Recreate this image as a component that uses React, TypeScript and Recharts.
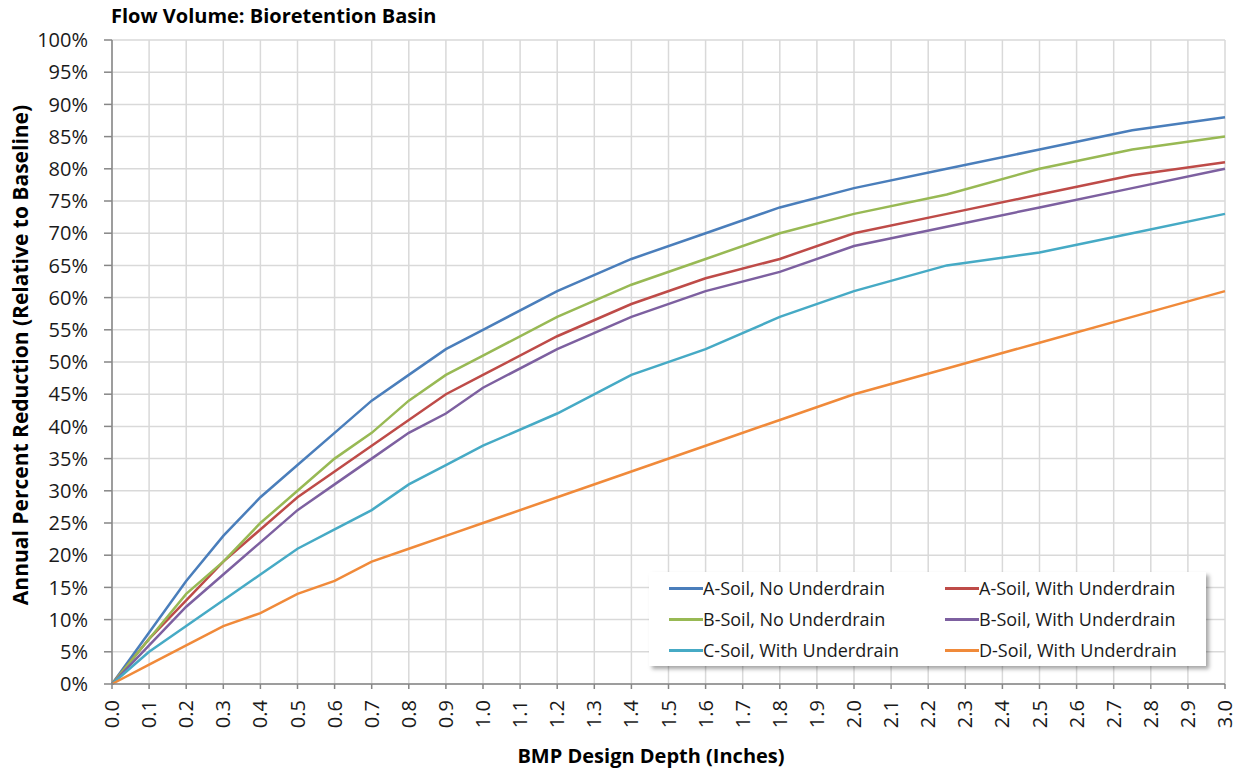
import React from 'react';
import { LineChart, Line, XAxis, YAxis, CartesianGrid, Legend } from 'recharts';

const depths = [0, 0.1, 0.2, 0.3, 0.4, 0.5, 0.6, 0.7, 0.8, 0.9, 1.0, 1.2, 1.4, 1.6, 1.8, 2.0, 2.25, 2.5, 2.75, 3.0];

const aSoilNoUnderdrain = [0, 8, 16, 23, 29, 34, 39, 44, 48, 52, 55, 61, 66, 70, 74, 77, 80, 83, 86, 88];
const aSoilWithUnderdrain = [0, 7, 13, 19, 24, 29, 33, 37, 41, 45, 48, 54, 59, 63, 66, 70, 73, 76, 79, 81];
const bSoilNoUnderdrain = [0, 7, 14, 19, 25, 30, 35, 39, 44, 48, 51, 57, 62, 66, 70, 73, 76, 80, 83, 85];
const bSoilWithUnderdrain = [0, 6, 12, 17, 22, 27, 31, 35, 39, 42, 46, 52, 57, 61, 64, 68, 71, 74, 77, 80];
const cSoilWithUnderdrain = [0, 5, 9, 13, 17, 21, 24, 27, 31, 34, 37, 42, 48, 52, 57, 61, 65, 67, 70, 73];
const dSoilWithUnderdrain = [0, 3, 6, 9, 11, 14, 16, 19, 21, 23, 25, 29, 33, 37, 41, 45, 49, 53, 57, 61];

const xTicks = [0, 0.1, 0.2, 0.3, 0.4, 0.5, 0.6, 0.7, 0.8, 0.9, 1.0, 1.1, 1.2, 1.3, 1.4, 1.5, 1.6, 1.7, 1.8, 1.9, 2.0, 2.1, 2.2, 2.3, 2.4, 2.5, 2.6, 2.7, 2.8, 2.9, 3.0];
const yTicks = [0, 5, 10, 15, 20, 25, 30, 35, 40, 45, 50, 55, 60, 65, 70, 75, 80, 85, 90, 95, 100];

const data = depths.map((d, i) => ({
  depth: d,
  aNo: aSoilNoUnderdrain[i],
  aWith: aSoilWithUnderdrain[i],
  bNo: bSoilNoUnderdrain[i],
  bWith: bSoilWithUnderdrain[i],
  cWith: cSoilWithUnderdrain[i],
  dWith: dSoilWithUnderdrain[i],
}));

const FONT = '"Open Sans", sans-serif';

const XTick = (props: any) => {
  const { x, y, payload } = props;
  return (
    <g transform={`translate(${x},${y})`}>
      <text transform="rotate(-90)" textAnchor="end" dy="0.35em" fontFamily={FONT} fontSize={20} fill="#1a1a1a">
        {Number(payload.value).toFixed(1)}
      </text>
    </g>
  );
};

const renderLegend = (props: any) => {
  const { payload } = props;
  return (
    <div style={{ position: 'relative', width: 557, height: 94, background: '#fff', boxShadow: '3px 3px 4px rgba(0,0,0,0.35)', fontFamily: FONT, fontSize: 18, color: '#1a1a1a' }}>
      {payload.map((entry: any, i: number) => {
        const col = i % 2;
        const row = Math.floor(i / 2);
        return (
          <div key={entry.value} style={{ position: 'absolute', left: col === 0 ? 20 : 296, top: 16 + row * 31 - 12, height: 24, display: 'flex', alignItems: 'center', whiteSpace: 'nowrap' }}>
            <span style={{ display: 'inline-block', width: 34, height: 3, background: entry.color }} />
            <span>{entry.value}</span>
          </div>
        );
      })}
    </div>
  );
};

const App: React.FC = () => {
  return (
    <div style={{ position: 'absolute', left: 0, top: 0, width: 1246, height: 771, background: '#fff' }}>
      <div style={{ position: 'absolute', left: 111, top: 2, fontFamily: FONT, fontWeight: 700, fontSize: 20, color: '#000', whiteSpace: 'nowrap' }}>
        Flow Volume: Bioretention Basin
      </div>
      <div style={{ position: 'absolute', left: 20, top: 355, transform: 'translate(-50%, -50%) rotate(-90deg)', fontFamily: FONT, fontWeight: 700, fontSize: 21, color: '#000', whiteSpace: 'nowrap' }}>
        Annual Percent Reduction (Relative to Baseline)
      </div>
      <div style={{ position: 'absolute', left: 651, top: 755, transform: 'translate(-50%, -50%)', fontFamily: FONT, fontWeight: 700, fontSize: 20, color: '#000', whiteSpace: 'nowrap' }}>
        BMP Design Depth (Inches)
      </div>
      <LineChart width={1246} height={771} data={data} margin={{ top: 40, right: 21, left: 0, bottom: 27 }}>
        <CartesianGrid stroke="#d9d9d9" strokeWidth={1.5} />
        <XAxis
          dataKey="depth"
          type="number"
          domain={[0, 3]}
          ticks={xTicks}
          interval={0}
          height={60}
          tickSize={5}
          tickMargin={11}
          tick={<XTick />}
          axisLine={{ stroke: '#868686', strokeWidth: 1.5 }}
          tickLine={{ stroke: '#868686', strokeWidth: 1.5 }}
        />
        <YAxis
          type="number"
          domain={[0, 100]}
          ticks={yTicks}
          interval={0}
          width={112}
          tickSize={8}
          tickMargin={16}
          tickFormatter={(v: number) => `${v}%`}
          tick={{ fontFamily: FONT, fontSize: 20, fill: '#1a1a1a' }}
          axisLine={{ stroke: '#868686', strokeWidth: 1.5 }}
          tickLine={{ stroke: '#868686', strokeWidth: 1.5 }}
        />
        <Legend
          layout="horizontal"
          verticalAlign="middle"
          align="center"
          content={renderLegend}
          wrapperStyle={{ left: 649, top: 572, width: 557, height: 94 }}
        />
        <Line type="linear" dataKey="aNo" name="A-Soil, No Underdrain" stroke="#4A7EBB" strokeWidth={2.5} dot={false} isAnimationActive={false} />
        <Line type="linear" dataKey="aWith" name="A-Soil, With Underdrain" stroke="#BE4B48" strokeWidth={2.5} dot={false} isAnimationActive={false} />
        <Line type="linear" dataKey="bNo" name="B-Soil, No Underdrain" stroke="#98B954" strokeWidth={2.5} dot={false} isAnimationActive={false} />
        <Line type="linear" dataKey="bWith" name="B-Soil, With Underdrain" stroke="#7D60A0" strokeWidth={2.5} dot={false} isAnimationActive={false} />
        <Line type="linear" dataKey="cWith" name="C-Soil, With Underdrain" stroke="#46AAC5" strokeWidth={2.5} dot={false} isAnimationActive={false} />
        <Line type="linear" dataKey="dWith" name="D-Soil, With Underdrain" stroke="#F08A3A" strokeWidth={2.5} dot={false} isAnimationActive={false} />
      </LineChart>
    </div>
  );
};

export default App;
